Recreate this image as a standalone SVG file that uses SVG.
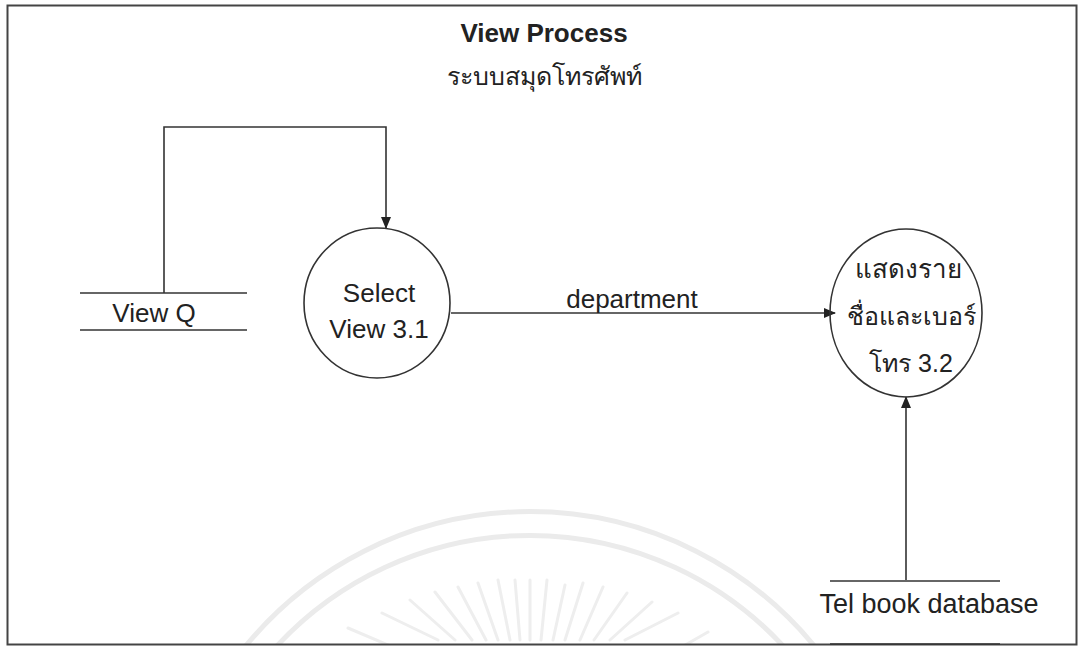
<svg xmlns="http://www.w3.org/2000/svg" width="1079" height="646" viewBox="0 0 1079 646">
<style>
.t{font-family:"Liberation Sans","Noto Sans",sans-serif;fill:#222;text-anchor:middle}
.ln{stroke:#333;stroke-width:1.6;fill:none}
.wm{stroke:#ebebeb;stroke-width:5;fill:none}
.wr{stroke:#eeeeee;stroke-width:3;fill:none;stroke-linecap:round}
</style>
<defs>
<marker id="ah" markerWidth="12" markerHeight="10" refX="11" refY="5" orient="auto" markerUnits="userSpaceOnUse">
<path d="M0,0 L12,5 L0,10 Z" fill="#222"/>
</marker>
<clipPath id="inside"><rect x="8" y="6" width="1068" height="638"/></clipPath>
</defs>
<rect x="0" y="0" width="1079" height="646" fill="#fff"/>
<g id="watermark" clip-path="url(#inside)">
<path class="wm" d="M244,648 A368,368 0 0 1 816,648"/>
<path class="wm" d="M275,648 A345,345 0 0 1 785,648"/>
<path class="wr" d="M498,580 L510,640 M515,580 L520,640 M530,580 L530,640 M547,580 L541,640 M565,585 L553,640 M583,583 L565,640 M603,587 L580,640 M627,593 L594,640 M652,602 L610,640 M678,613 L625,640 M708,632 L680,648 M478,583 L498,640 M458,587 L486,640 M435,592 L472,640 M410,600 L455,640 M382,613 L438,640 M348,628 L395,648"/>
</g>
<rect id="frame" x="7.5" y="5.5" width="1069" height="639" fill="none" stroke="#444" stroke-width="2"/>
<g id="title">
<text class="t" x="544" y="42" font-size="26" font-weight="bold">View Process</text>
<text class="t" x="544" y="85" font-size="25">ระบบสมุดโทรศัพท์</text>
</g>
<g id="connectors">
<path class="ln" d="M164,293 L164,127 L386,127 L386,228" marker-end="url(#ah)"/>
<path class="ln" d="M451,313 L835,313" marker-end="url(#ah)"/>
<path class="ln" d="M906,580 L906,397" marker-end="url(#ah)"/>
<text class="t" x="632" y="308" font-size="26">department</text>
</g>
<g id="viewq">
<line class="ln" x1="80" y1="293" x2="247" y2="293"/>
<line class="ln" x1="80" y1="330" x2="247" y2="330"/>
<text class="t" x="154" y="322" font-size="26">View Q</text>
</g>
<g id="p31">
<ellipse class="ln" cx="377" cy="303" rx="73" ry="75"/>
<text class="t" x="379" y="302" font-size="26">Select</text>
<text class="t" x="379" y="338" font-size="26">View 3.1</text>
</g>
<g id="p32">
<ellipse class="ln" cx="906" cy="313" rx="76" ry="84"/>
<text class="t" x="908" y="278" font-size="26">แสดงราย</text>
<text class="t" x="911" y="325" font-size="25">ชื่อและเบอร์</text>
<text class="t" x="911" y="372" font-size="25">โทร 3.2</text>
</g>
<g id="telbook">
<line class="ln" x1="830" y1="581" x2="1000" y2="581"/>
<line class="ln" x1="830" y1="644" x2="1000" y2="644"/>
<text class="t" x="929" y="613" font-size="27">Tel book database</text>
</g>
</svg>
